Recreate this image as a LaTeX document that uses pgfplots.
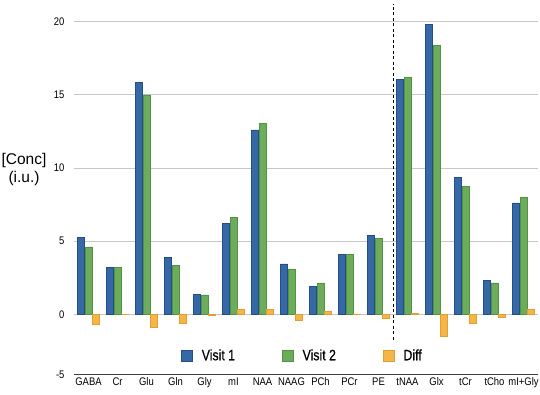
\documentclass[border=0pt]{standalone}
\usepackage{pgfplots}
\pgfplotsset{compat=1.18}
\usepackage{fontspec}
\setmainfont{Liberation Sans}
\newfontfamily\narrowfont{Liberation Sans}[FakeStretch=0.86]
\newfontfamily\legfont{Liberation Sans}[FakeStretch=0.82, FakeBold=0.6]
\definecolor{cblue}{RGB}{54,104,166}
\definecolor{cblueE}{RGB}{36,78,136}
\definecolor{cgreen}{RGB}{108,172,90}
\definecolor{cgreenE}{RGB}{82,146,68}
\definecolor{corange}{RGB}{244,182,72}
\definecolor{corangeE}{RGB}{226,158,48}
\begin{document}
\begin{tikzpicture}
\useasboundingbox (-74bp,-20.7bp) rectangle (466bp,374.3bp);
\begin{axis}[
  at={(0,0)}, anchor=south west,
  scale only axis, width=464bp, height=370.2bp,
  xmin=-0.5, xmax=15.5, ymin=-4.1, ymax=21.2,
  ybar, bar width=7bp,
  xtick={0,...,15},
  xticklabels={GABA,Cr,Glu,Gln,Gly,mI,NAA,NAAG,PCh,PCr,PE,tNAA,Glx,tCr,tCho,mI+Gly},
  ytick={-4.1,0,5,10,15,20},
  yticklabels={-5,0,5,10,15,20},
  ymajorgrids, grid style={draw=black!22, line width=0.8bp},
  major tick length=0,
  axis x line*=bottom, axis y line*=left,
  x axis line style={draw=black!75, line width=1bp, -},
  y axis line style={draw=none},
  ticklabel style={font=\narrowfont\fontsize{11bp}{12bp}\selectfont},
  yticklabel style={xshift=-6bp},
  legend style={at={(axis cs:3.086,-2.82)}, anchor=west, draw=none, fill=none,
    legend columns=3, font=\legfont\fontsize{15bp}{16bp}\selectfont,
    /tikz/every even column/.append style={column sep=45bp}},
  legend image code/.code={\draw[#1] (0bp,-5.5bp) rectangle (11bp,5.5bp); \path (18bp,0bp);},
]
\addplot[fill=cblue, draw=cblueE, line width=0.6bp, bar shift=-7.5bp] coordinates {
(0,5.24) (1,3.19) (2,15.86) (3,3.90) (4,1.37) (5,6.19) (6,12.60) (7,3.44)
(8,1.91) (9,4.07) (10,5.40) (11,16.08) (12,19.82) (13,9.36) (14,2.30) (15,7.61)};
\addplot[fill=cgreen, draw=cgreenE, line width=0.6bp, bar shift=0bp] coordinates {
(0,4.60) (1,3.19) (2,14.99) (3,3.32) (4,1.33) (5,6.60) (6,13.03) (7,3.10)
(8,2.14) (9,4.12) (10,5.17) (11,16.17) (12,18.36) (13,8.75) (14,2.14) (15,7.97)};
\addplot[fill=corange, draw=corangeE, line width=0.6bp, bar shift=7.5bp] coordinates {
(0,-0.66) (1,0.00) (2,-0.91) (3,-0.62) (4,-0.04) (5,0.36) (6,0.36) (7,-0.39)
(8,0.20) (9,0.03) (10,-0.25) (11,0.05) (12,-1.48) (13,-0.64) (14,-0.18) (15,0.34)};
\legend{Visit 1, Visit 2, Diff}
\draw[black, line width=0.8bp, dash pattern=on 3bp off 2.5bp] (axis cs:10.5,-1.75) -- (axis cs:10.5,21.2);
\end{axis}
\node[align=center, font=\fontsize{15.5bp}{18.5bp}\selectfont] at (-50bp,205bp) {[Conc]\\(i.u.)};
\end{tikzpicture}
\end{document}
